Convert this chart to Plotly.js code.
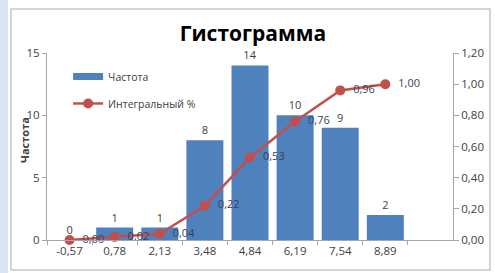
<!DOCTYPE html>
<html><head><meta charset="utf-8">
<script src="https://cdn.plot.ly/plotly-3.0.1.min.js"></script>
<style>html,body{margin:0;padding:0;background:#fff}#c{width:495px;height:273px}</style>
</head><body><div id="c"></div>
<script>
const categories = ['-0,57','0,78','2,13','3,48','4,84','6,19','7,54','8,89'];
const frequency = [0, 1, 1, 8, 14, 10, 9, 2];
const cumulative = [0.00, 0.02, 0.04, 0.22, 0.53, 0.76, 0.96, 1.00];
const leftTicks = [0, 5, 10, 15];
const rightTicks = [0, 0.2, 0.4, 0.6, 0.8, 1.0, 1.2];

const fmt = v => '\u00a0\u00a0' + v.toFixed(2).replace('.', ',');
const FONT = 'Open Sans, Noto Sans, sans-serif';
const BLUE = '#4f81bd', RED = '#c0504d';

const traces = [
  {type:'bar', name:'Частота', x:categories, y:frequency, marker:{color:BLUE},
   text:frequency.map(String), textposition:'outside', cliponaxis:false,
   textfont:{size:11, color:'#404040', family:FONT}, showlegend:false, width:0.82},
  // legend entry for the bars, drawn as a wide band like the original
  {type:'scatter', mode:'lines', name:'Частота', x:[null], y:[null],
   line:{color:BLUE, width:7}, legendgroup:'a', hoverinfo:'skip'},
  {type:'scatter', mode:'lines+markers+text', name:'Интегральный %', x:categories, y:cumulative,
   yaxis:'y2', line:{color:RED, width:2.5}, marker:{color:RED, size:10},
   text:cumulative.map(fmt), textposition:'middle right', cliponaxis:false,
   textfont:{size:11, color:'#3a3f5c', family:FONT}, legendgroup:'b'}
];

const layout = {
  width:495, height:273,
  margin:{l:47, r:42, t:53, b:33},
  paper_bgcolor:'#ffffff', plot_bgcolor:'rgba(0,0,0,0)',
  font:{family:FONT, size:11, color:'#595959'},
  separators:', ',
  showlegend:true,
  title:{text:'<b>Гистограмма</b>', font:{size:21, color:'#000', family:FONT},
         xref:'container', x:0.511, xanchor:'center', yref:'container', y:0.876, yanchor:'middle'},
  legend:{x:0.052, y:0.952, xanchor:'left', yanchor:'top', bgcolor:'rgba(0,0,0,0)',
          traceorder:'grouped', tracegroupgap:8, font:{size:10.5, color:'#404040', family:FONT}},
  bargap:0.18,
  xaxis:{type:'category', range:[-0.5, 8.5], tickson:'boundaries', ticks:'outside', ticklen:4,
         tickcolor:'#a6a6a6', showline:true, linecolor:'#a6a6a6', showgrid:false, zeroline:false,
         tickfont:{size:11.5, color:'#404040'}},
  yaxis:{range:[0, 15], tickvals:leftTicks, ticks:'outside', ticklen:4, tickcolor:'#a6a6a6',
         showline:true, linecolor:'#a6a6a6', showgrid:false, zeroline:false,
         tickfont:{size:11.5, color:'#404040'}},
  yaxis2:{overlaying:'y', side:'right', range:[0, 1.2], tickvals:rightTicks, tickformat:'.2f',
          ticks:'outside', ticklen:5, tickcolor:'#a6a6a6', showline:true, linecolor:'#a6a6a6',
          showgrid:false, zeroline:false, tickfont:{size:11.5, color:'#404040'}},
  annotations:[
    {text:'<b>Частота</b>', xref:'paper', yref:'paper', x:-0.054, y:0.535, textangle:-90,
     showarrow:false, xanchor:'center', yanchor:'middle', font:{size:11, color:'#404040'}}
  ],
  shapes:[
    {type:'rect', xref:'paper', yref:'paper', x0:-0.0887, x1:1.091, y0:-0.16, y1:1.235,
     line:{color:'#c8c8c8', width:1.5}, fillcolor:'rgba(0,0,0,0)', layer:'below'},
    {type:'rect', xref:'paper', yref:'paper', x0:-0.116, x1:-0.096, y0:-0.2, y1:1.3,
     line:{width:0}, fillcolor:'#dbe6f2', layer:'below'}
  ]
};

Plotly.newPlot('c', traces, layout, {displayModeBar:false, staticPlot:true});
</script></body></html>
